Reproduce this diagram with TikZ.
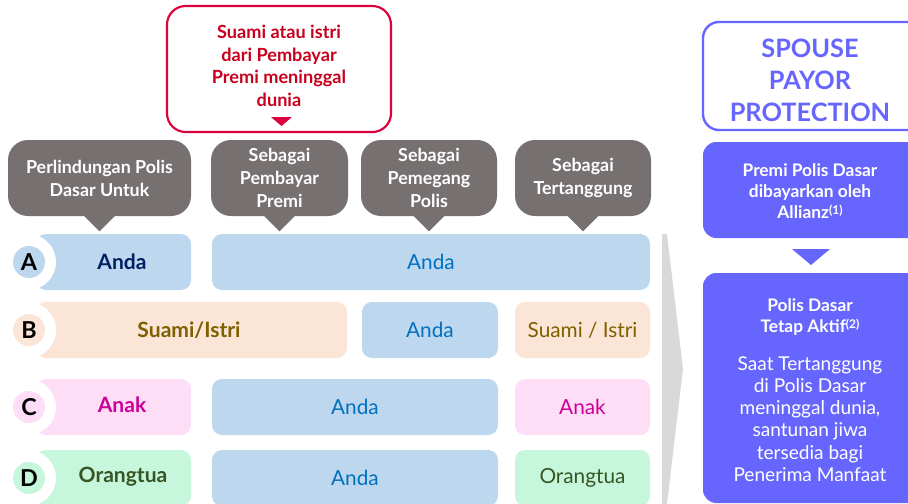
\documentclass[tikz,border=0pt]{standalone}
\usepackage{fontspec}
\setmainfont{Lato}
\usetikzlibrary{calc}
\definecolor{gbox}{RGB}{118,113,112}
\definecolor{redB}{RGB}{220,0,60}
\definecolor{redT}{RGB}{200,0,30}
\definecolor{purp}{RGB}{102,102,255}
\definecolor{blueF}{RGB}{189,215,238}
\definecolor{peachF}{RGB}{251,229,214}
\definecolor{pinkF}{RGB}{253,222,246}
\definecolor{mintF}{RGB}{198,246,220}
\definecolor{navyT}{RGB}{0,32,96}
\definecolor{blueT}{RGB}{0,112,192}
\definecolor{brownT}{RGB}{127,96,0}
\definecolor{magT}{RGB}{204,0,153}
\definecolor{greenT}{RGB}{55,86,35}
\definecolor{chevF}{RGB}{217,217,217}
\newcommand\bx[7]{\node[#6, minimum width={(#4-#2)*0.75pt}, minimum height={(#5-#3)*0.75pt}] (#1) at ({(#2+#4)/2},{(#3+#5)/2}) {#7};}
\newcommand\supn[1]{\raisebox{0.45ex}{\fontsize{9}{9}\selectfont #1}}
\tikzset{
  cell/.style={inner sep=0pt, rounded corners=7.5pt, draw=none},
  callout/.style={cell, fill=gbox, rounded corners=15pt, text=white, align=center, font=\bfseries\fontsize{13.4}{17.25}\selectfont},
  bold/.style={font=\bfseries\fontsize{15.8}{17}\selectfont},
  reg/.style={font=\fontsize{15.6}{17}\selectfont},
  letter/.style={circle, inner sep=0pt, minimum size=24pt, font=\bfseries\fontsize{17.5}{18}\selectfont, text=black},
}
\begin{document}
\begin{tikzpicture}[x=0.75pt,y=-0.75pt]
\clip (0,0) rectangle (908,504);
\fill[white] (0,0) rectangle (908,504);

% red box
\bx{red}{167}{6}{391}{132}{cell, draw=redB, line width=1.6pt, rounded corners=14pt}{}
\node[text=redT, align=center, font=\bfseries\fontsize{13.6}{17}\selectfont] (redtxt) at (279,66) {Suami atau istri\\dari Pembayar\\Premi meninggal\\dunia};
\fill[redB] (271,117) -- (292,117) -- (281.5,126) -- cycle;

% callouts
\bx{c1}{8}{140}{191}{216}{callout}{Perlindungan Polis\\Dasar Untuk}
\bx{c2}{211}{140}{348}{216}{callout}{Sebagai\\Pembayar\\Premi}
\bx{c3}{361}{140}{497}{216}{callout}{Sebagai\\Pemegang\\Polis}
\bx{c4}{515}{140}{651}{216}{callout}{Sebagai\\Tertanggung}
\foreach \c in {c1,c2,c3,c4}{
  \fill[gbox] ($(\c.south)+(-16,-1)$) -- ($(\c.south)+(16,-1)$) -- ($(\c.south)+(0,15)$) -- cycle;
}

% chevron
\fill[chevF] (662,234) -- (667,234) -- (683,369) -- (667,504) -- (662,504) -- cycle;

% row A
\bx{aL}{36}{234}{191}{290}{cell, fill=blueF}{}
\fill[white] (28,262) circle[radius=28];
\node[letter, fill=blueF] (aC) at (29,262) {A};
\node[bold, text=navyT] (aT) at (122,262) {Anda};
\bx{aR}{212}{234}{650}{290}{cell, fill=blueF, reg, text=blueT}{Anda}

% row B
\bx{bL}{36}{302}{347}{358}{cell, fill=peachF}{}
\fill[white] (28,330) circle[radius=28];
\node[letter, fill=peachF] (bC) at (29,330) {B};
\node[bold, text=brownT] (bT) at (189,330) {Suami/Istri};
\bx{bM}{362}{302}{498}{358}{cell, fill=blueF, reg, text=blueT}{Anda}
\bx{bR}{515}{302}{650}{358}{cell, fill=peachF, reg, text=brownT}{Suami / Istri}

% row C
\bx{cL}{36}{379}{191}{435}{cell, fill=pinkF}{}
\fill[white] (28,407) circle[radius=28];
\node[letter, fill=pinkF] (cC) at (29,407) {C};
\node[bold, text=magT] (cT) at (122,405) {Anak};
\bx{cM}{212}{379}{498}{435}{cell, fill=blueF, reg, text=blueT}{Anda}
\bx{cR}{515}{379}{650}{435}{cell, fill=pinkF, reg, text=magT}{Anak}

% row D
\bx{dL}{36}{450}{191}{506}{cell, fill=mintF}{}
\fill[white] (28,478) circle[radius=28];
\node[letter, fill=mintF] (dC) at (29,478) {D};
\node[bold, text=greenT] (dT) at (123,477) {Orangtua};
\bx{dM}{212}{450}{498}{506}{cell, fill=blueF, reg, text=blueT}{Anda}
\bx{dR}{515}{450}{650}{506}{cell, fill=mintF, reg, text=greenT}{Orangtua}

% right column
\bx{hdr}{703}{22}{930}{130}{cell, draw=purp, line width=1.8pt, rounded corners=12pt}{}
\node[text=purp, align=center, font=\bfseries\fontsize{19}{24}\selectfont] (hdrT) at (810,80) {SPOUSE\\PAYOR\\PROTECTION};
\bx{p1}{703}{142}{930}{238}{cell, fill=purp, rounded corners=10pt}{}
\node[text=white, align=center, font=\bfseries\fontsize{13}{16}\selectfont] (p1T) at (810,191) {Premi Polis Dasar\\dibayarkan oleh\\Allianz\supn{(1)}};
\fill[purp] (792,249) -- (830,249) -- (811,265) -- cycle;
\bx{p2}{703}{273}{930}{503}{cell, fill=purp, rounded corners=10pt}{}
\node[text=white, align=center, font=\bfseries\fontsize{13}{16}\selectfont] (p2T) at (810,317) {Polis Dasar\\Tetap Aktif\supn{(2)}};
\node[text=white, align=center, font=\fontsize{14.3}{16.6}\selectfont] (p2B) at (810,419) {Saat Tertanggung\\di Polis Dasar\\meninggal dunia,\\santunan jiwa\\tersedia bagi\\Penerima Manfaat};
\end{tikzpicture}
\end{document}
